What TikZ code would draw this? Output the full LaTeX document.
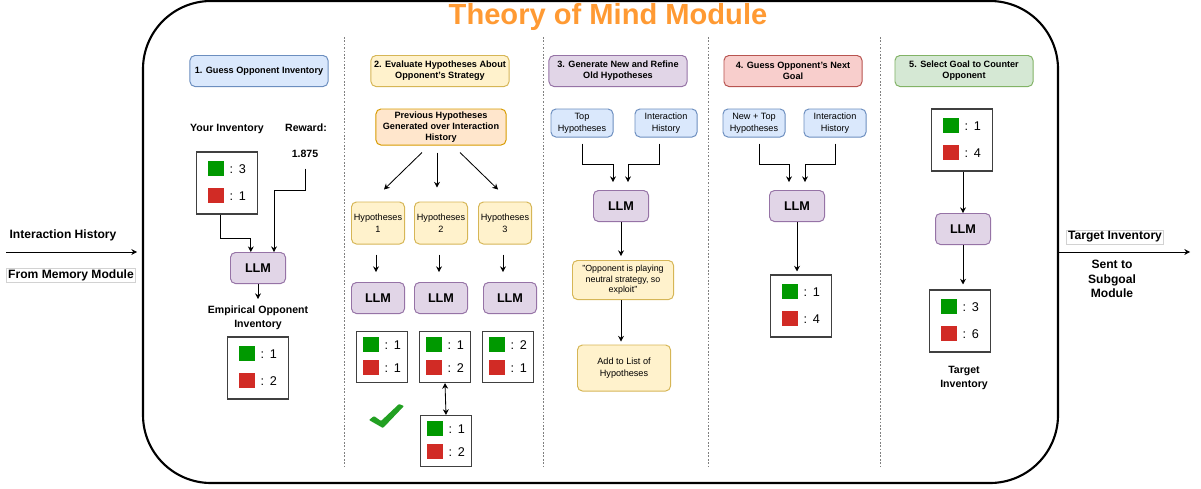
\documentclass[tikz,border=0pt]{standalone}
\usepackage{fontspec}
\setmainfont{Liberation Sans}
\usetikzlibrary{arrows.meta}

\definecolor{bluefill}{HTML}{DAE8FC}\definecolor{bluedraw}{HTML}{6C8EBF}
\definecolor{yelfill}{HTML}{FFF2CC}\definecolor{yeldraw}{HTML}{D6B656}
\definecolor{ornfill}{HTML}{FFE6CC}\definecolor{orndraw}{HTML}{D79B00}
\definecolor{purfill}{HTML}{E1D5E7}\definecolor{purdraw}{HTML}{9673A6}
\definecolor{redfill}{HTML}{F8CECC}\definecolor{reddraw}{HTML}{B85450}
\definecolor{grnfill}{HTML}{D5E8D4}\definecolor{grndraw}{HTML}{82B366}
\definecolor{invgreen}{HTML}{009900}
\definecolor{invred}{HTML}{D12B25}
\definecolor{checkgreen}{HTML}{22A022}
\definecolor{titleorange}{HTML}{FF9A33}

% one square of the inventory
\newcommand{\invsq}[1]{\textcolor{#1}{\rule[-0.07cm]{0.39cm}{0.39cm}}}
% green and red rows of an inventory box
\newcommand{\invrows}[3][0.24cm]{%
  \begin{tabular}{@{}l@{\hspace{0.15cm}:\hspace{0.14cm}}l@{}}
    \invsq{invgreen} & #2\\[#1]
    \invsq{invred} & #3
  \end{tabular}}

\tikzset{
  rbox/.style={draw, rounded corners=3.5pt, line width=0.7pt, align=center, inner sep=1pt},
  hdr/.style={rbox, minimum width=3.45cm, minimum height=0.775cm,
    font=\fontsize{6.5}{7.8}\selectfont\bfseries},
  fblue/.style={fill=bluefill, draw=bluedraw},
  fyel/.style={fill=yelfill, draw=yeldraw},
  forn/.style={fill=ornfill, draw=orndraw},
  fpur/.style={fill=purfill, draw=purdraw},
  fred/.style={fill=redfill, draw=reddraw},
  fgrn/.style={fill=grnfill, draw=grndraw},
  llm/.style={rbox, fpur, minimum width=1.375cm, minimum height=0.775cm,
    font=\fontsize{9}{11}\selectfont\bfseries},
  hyp/.style={rbox, fyel, minimum width=1.325cm, minimum height=1.05cm,
    font=\fontsize{6.5}{8.3}\selectfont},
  inp/.style={rbox, fblue, minimum width=1.55cm, minimum height=0.7cm,
    font=\fontsize{6.5}{8.3}\selectfont},
  inv/.style={draw=black!75, line width=0.8pt, minimum width=1.525cm, minimum height=1.55cm,
    inner sep=0pt, font=\fontsize{9}{11}\selectfont},
  invsm/.style={inv, minimum width=1.275cm, minimum height=1.275cm},
  lbl/.style={align=center, font=\fontsize{7.5}{10.3}\selectfont\bfseries},
  side/.style={lbl, font=\fontsize{8.6}{10.5}\selectfont\bfseries},
  arr/.style={-{Stealth[length=4pt,width=4.2pt]}, line width=0.6pt},
  sep/.style={gray, line width=0.6pt, dash pattern=on 1.2pt off 1.2pt}
}

\begin{document}
\begin{tikzpicture}[x=0.025cm, y=-0.025cm]
  \useasboundingbox (0,0) rectangle (1201,488);

  %module frame
  \draw[line width=1.5pt, rounded corners=1.7cm] (143,1) rectangle (1058,483);
  \node[font=\fontsize{20.7}{24}\selectfont\bfseries, text=titleorange] (title) at (608,17) {Theory of Mind Module};
  \foreach \x in {344,543,708,880}{
    \draw[sep] (\x,37) -- (\x,467);
  }

  %input and output
  \node[side] (histlbl) at (63,235) {Interaction History};
  \node[side, draw=gray!35, line width=0.4pt, inner sep=1pt] (memlbl) at (71,275) {From Memory Module};
  \coordinate (inL) at (6,252);
  \coordinate (inR) at (137,252);
  \draw[arr] (inL) -- (inR);
  \node[side, draw=gray!35, line width=0.4pt, inner sep=1pt] (tgtlbl) at (1115,237) {Target Inventory};
  \node[side] (sentlbl) at (1112,279) {Sent to\\Subgoal\\Module};
  \coordinate (outL) at (1058,252);
  \coordinate (outR) at (1190,252);
  \draw[arr] (outL) -- (outR);

  %1. guess opponent inventory
  \node[hdr, fblue] (h1) at (259,71) {1. Guess Opponent Inventory};
  \node[lbl] (yourinv) at (227,129) {Your Inventory};
  \node[lbl] (reward) at (306,128) {Reward:};
  \node[lbl] (rewval) at (305,154) {1.875};
  \node[inv] (inv1) at (227,183) {\invrows{3}{1}};
  \node[llm] (llm1) at (258,268) {LLM};
  \node[lbl] (emp) at (258,318) {Empirical Opponent\\Inventory};
  \node[inv] (inv2) at (258,368) {\invrows{1}{2}};
  \draw[arr] ([xshift=-0.16cm]inv1.south) -- ++(0,24) -| ([xshift=-0.18cm]llm1.north);
  \draw[arr] ([yshift=-0.15cm]rewval.south) -- ++(0,22) -| ([xshift=0.4cm]llm1.north);
  \draw[arr] (llm1.south) -- ++(0,15);

  %2. evaluate hypotheses
  \node[hdr, fyel] (h2) at (440,71) {2. Evaluate Hypotheses About\\Opponent's Strategy};
  \node[rbox, forn, minimum width=3.25cm, minimum height=0.9cm,
    font=\fontsize{6.5}{8}\selectfont\bfseries] (prev) at (441,127)
    {Previous Hypotheses\\Generated over Interaction\\History};
  \foreach \i/\x/\xl/\xb/\v/\w in {1/378/378/382/1/1, 2/441/441/445/1/2, 3/505/510/508/2/1}{
    \node[hyp] (hyp\i) at (\x,223) {Hypotheses\\\i};
    \node[llm, minimum width=1.325cm] (llmh\i) at (\xl,298) {LLM};
    \node[invsm] (box\i) at (\xb,357) {\invrows[0.14cm]{\v}{\w}};
    \draw[arr, shorten <=0.25cm, shorten >=0.25cm] ([xshift=-0.05cm]hyp\i.south) -- ([xshift=-0.05cm]hyp\i.south |- llmh\i.north);
  }
  \draw[arr] ([xshift=-0.475cm, yshift=-0.175cm]prev.south) -- ([xshift=0.15cm, yshift=0.3cm]hyp1.north);
  \draw[arr] ([xshift=-0.1cm, yshift=-0.175cm]prev.south) -- ([xshift=-0.1cm, yshift=0.35cm]hyp2.north);
  \draw[arr] ([xshift=0.475cm, yshift=-0.175cm]prev.south) -- ([xshift=-0.175cm, yshift=0.3cm]hyp3.north);
  \node[invsm] (box4) at (446,441) {\invrows[0.14cm]{1}{2}};
  \draw[{Stealth[length=4pt,width=4.2pt]}-{Stealth[length=4pt,width=4.2pt]}, line width=0.6pt] (box2.south) -- (box4.north);
  % check mark
  \fill[checkgreen, rounded corners=0.6pt] (369,420) -- (374,416) -- (381,421) -- (399,404) -- (404,406) -- (383,428) -- cycle;

  %3. generate and refine hypotheses
  \node[hdr, fpur] (h3) at (618,71) {3. Generate New and Refine\\Old Hypotheses};
  \node[inp] (top3) at (582,123) {Top\\Hypotheses};
  \node[inp] (hist3) at (666,123) {Interaction\\History};
  \node[llm] (llm3) at (621,206) {LLM};
  \node[rbox, fyel, minimum width=2.525cm, minimum height=0.975cm,
    font=\fontsize{6.3}{7.6}\selectfont] (quote) at (623,280)
    {"Opponent is playing\\neutral strategy, so\\exploit"};
  \node[rbox, fyel, minimum width=2.325cm, minimum height=1.15cm,
    font=\fontsize{6.5}{8.3}\selectfont] (addlist) at (624,368) {Add to List of\\Hypotheses};
  \draw[arr, shorten >=0.2cm] ([yshift=-0.15cm]top3.south) -- ++(0,21) -| ([xshift=-0.2cm]llm3.north);
  \draw[arr, shorten >=0.2cm] ([xshift=-0.175cm, yshift=-0.15cm]hist3.south) -- ++(0,21) -| ([xshift=0.175cm]llm3.north);
  \draw[arr, shorten >=0.1cm] (llm3.south) -- (llm3.south |- quote.north);
  \draw[arr, shorten >=0.075cm] ([xshift=-0.05cm]quote.south) -- ([xshift=-0.05cm]quote.south |- addlist.north);

  %4. guess next goal
  \node[hdr, fred] (h4) at (793,71) {4. Guess Opponent's Next\\Goal};
  \node[inp] (top4) at (754,123) {New + Top\\Hypotheses};
  \node[inp] (hist4) at (835,123) {Interaction\\History};
  \node[llm] (llm4) at (797,206) {LLM};
  \node[inv] (inv4) at (801,306) {\invrows{1}{4}};
  \draw[arr, shorten >=0.2cm] ([xshift=0.125cm, yshift=-0.15cm]top4.south) -- ++(0,21) -| ([xshift=-0.2cm]llm4.north);
  \draw[arr, shorten >=0.2cm] ([yshift=-0.15cm]hist4.south) -- ++(0,21) -| ([xshift=0.2cm]llm4.north);
  \draw[arr, shorten >=0.075cm] (llm4.south) -- (llm4.south |- inv4.north);

  %5. select goal
  \node[hdr, fgrn] (h5) at (964,71) {5. Select Goal to Counter\\Opponent};
  \node[inv] (inv5a) at (962,140) {\invrows{1}{4}};
  \node[llm] (llm5) at (963,229) {LLM};
  \node[inv] (inv5b) at (960,321) {\invrows{3}{6}};
  \node[lbl] (tgt5) at (964,378) {Target\\Inventory};
  \draw[arr] ([xshift=0.025cm]inv5a.south) -- ([xshift=0.025cm]inv5a.south |- llm5.north);
  \draw[arr, shorten >=0.125cm] (llm5.south) -- (llm5.south |- inv5b.north);
\end{tikzpicture}
\end{document}
